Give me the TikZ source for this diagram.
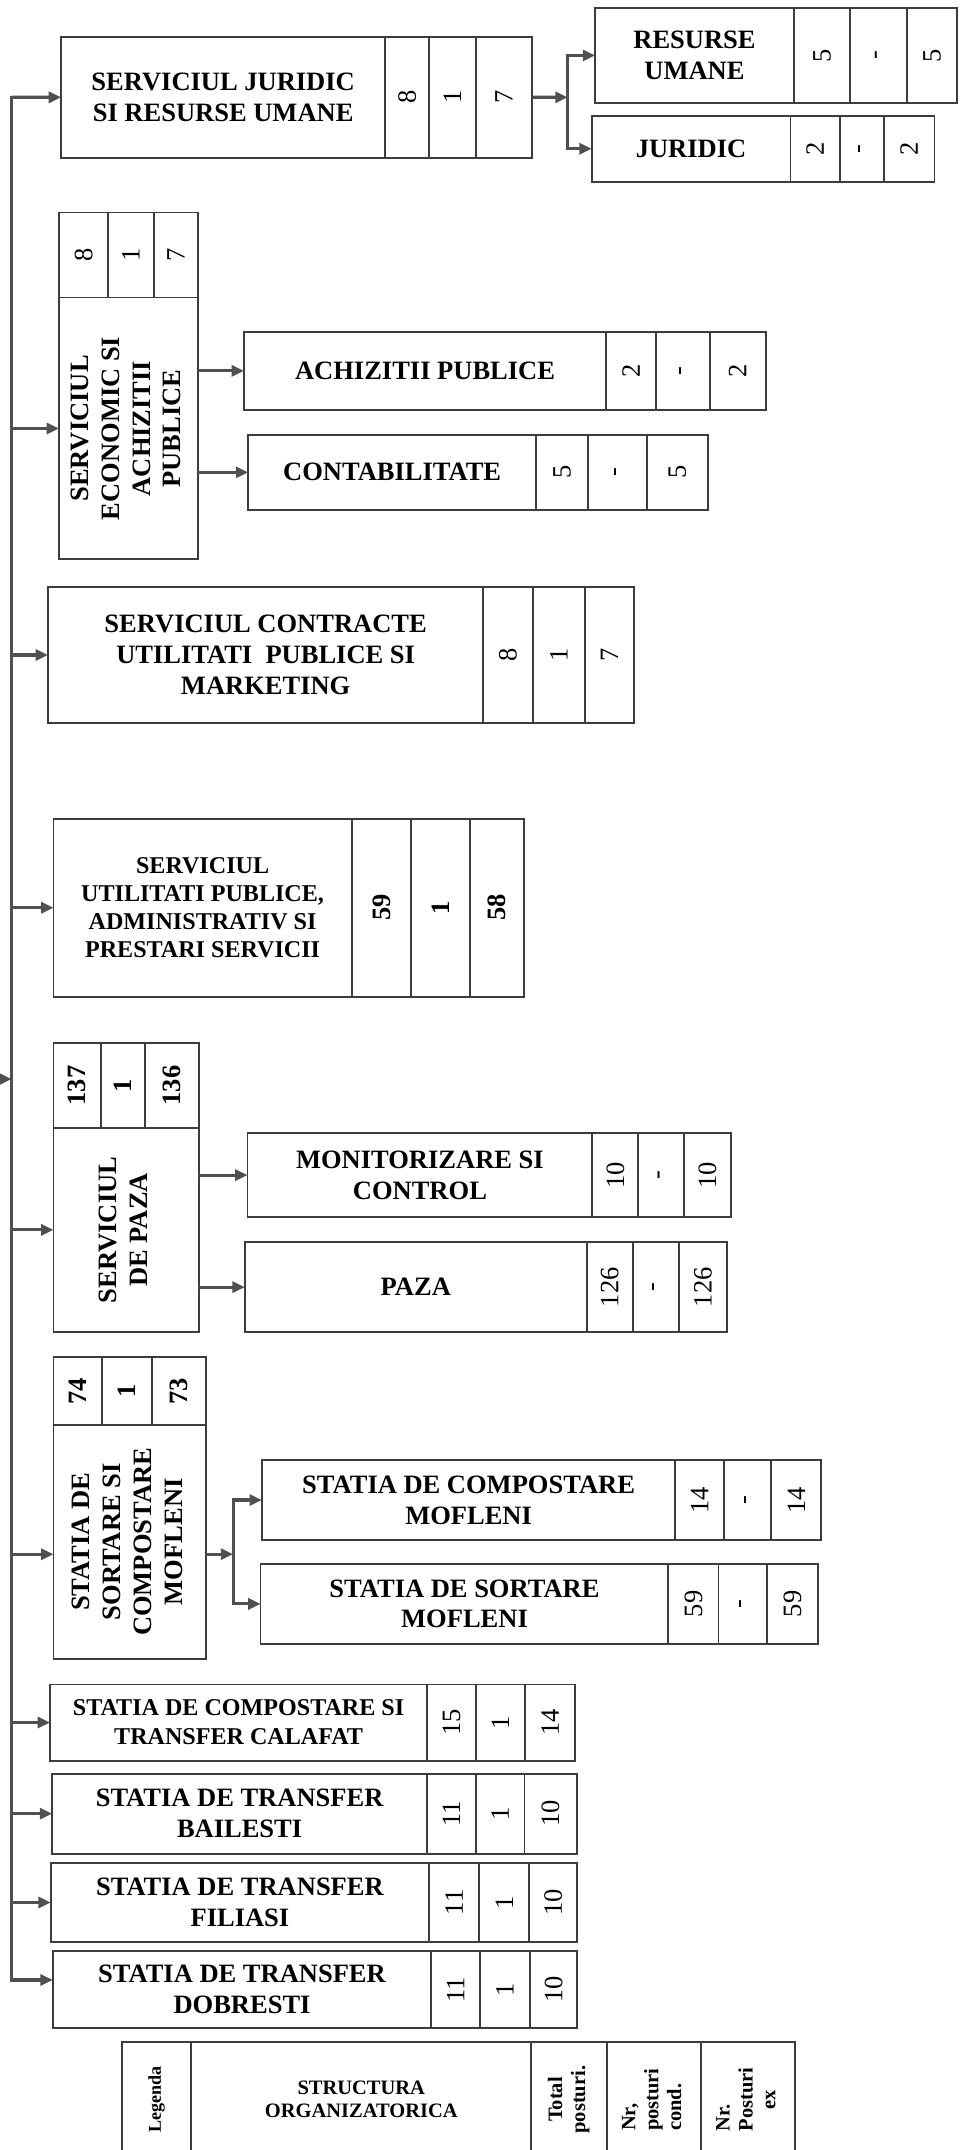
\documentclass[tikz,border=0pt]{standalone}
\usepackage{fontspec}
\setmainfont{Liberation Serif}
\usepackage{tikz}
\usetikzlibrary{arrows.meta, positioning}
\definecolor{boxgray}{HTML}{3C3C3C}
\definecolor{arrowgray}{HTML}{505050}

\begin{document}
\begin{tikzpicture}[
    unitbox/.style={draw=boxgray, line width=0.8pt, inner sep=1pt, outer sep=0pt,
                    align=center, font=\bfseries\fontsize{11}{12.8}\selectfont},
    numcell/.style={draw=boxgray, line width=0.8pt, inner sep=0pt, outer sep=0pt,
                    font=\fontsize{11}{13}\selectfont},
    legcell/.style={draw=boxgray, line width=0.8pt, inner sep=1pt, outer sep=0pt,
                    align=center, font=\bfseries\fontsize{8.5}{9.5}\selectfont},
    link/.style={draw=arrowgray, line width=1.3pt, line cap=rect},
    arr/.style={draw=arrowgray, line width=1.3pt, -{Triangle[length=1.8mm, width=1.6mm]}}]

  \useasboundingbox (0,0) rectangle (14.14, 31.36);

  % Serviciul juridic si resurse umane
  \node[unitbox, anchor=north west, minimum width=4.73cm, minimum height=1.76cm]
       (jur) at (0.89, 30.82) {SERVICIUL JURIDIC\\SI RESURSE UMANE};
  \node[numcell, minimum width=0.64cm, minimum height=1.76cm, right=0pt of jur]  (jur1) {\rotatebox{90}{8}};
  \node[numcell, minimum width=0.68cm, minimum height=1.76cm, right=0pt of jur1] (jur2) {\rotatebox{90}{1}};
  \node[numcell, minimum width=0.82cm, minimum height=1.76cm, right=0pt of jur2] (jur3) {\rotatebox{90}{7}};

  \node[unitbox, anchor=north west, minimum width=2.90cm, minimum height=1.38cm]
       (res) at (8.68, 31.24) {RESURSE\\UMANE};
  \node[numcell, minimum width=0.82cm, minimum height=1.38cm, right=0pt of res]  (res1) {\rotatebox{90}{5}};
  \node[numcell, minimum width=0.83cm, minimum height=1.38cm, right=0pt of res1] (res2) {\rotatebox{90}{-}};
  \node[numcell, minimum width=0.73cm, minimum height=1.38cm, right=0pt of res2] (res3) {\rotatebox{90}{5}};

  \node[unitbox, anchor=north west, minimum width=2.90cm, minimum height=0.96cm]
       (jd) at (8.63, 29.67) {JURIDIC};
  \node[numcell, minimum width=0.72cm, minimum height=0.96cm, right=0pt of jd]  (jd1) {\rotatebox{90}{2}};
  \node[numcell, minimum width=0.64cm, minimum height=0.96cm, right=0pt of jd1] (jd2) {\rotatebox{90}{-}};
  \node[numcell, minimum width=0.74cm, minimum height=0.96cm, right=0pt of jd2] (jd3) {\rotatebox{90}{2}};

  % Serviciul economic si achizitii publice
  \node[unitbox, anchor=north west, minimum width=2.03cm, minimum height=3.82cm]
       (econ) at (0.86, 27.02) {\rotatebox{90}{\begin{tabular}{@{}c@{}}SERVICIUL\\ECONOMIC SI\\ACHIZITII\\PUBLICE\end{tabular}}};
  \node[numcell, minimum width=0.72cm, minimum height=1.24cm, anchor=south west] (econ1) at (econ.north west) {\rotatebox{90}{8}};
  \node[numcell, minimum width=0.66cm, minimum height=1.24cm, right=0pt of econ1] (econ2) {\rotatebox{90}{1}};
  \node[numcell, minimum width=0.65cm, minimum height=1.24cm, right=0pt of econ2] (econ3) {\rotatebox{90}{7}};

  \node[unitbox, anchor=north west, minimum width=5.28cm, minimum height=1.14cm]
       (ach) at (3.56, 26.52) {ACHIZITII PUBLICE};
  \node[numcell, minimum width=0.73cm, minimum height=1.14cm, right=0pt of ach]  (ach1) {\rotatebox{90}{2}};
  \node[numcell, minimum width=0.78cm, minimum height=1.14cm, right=0pt of ach1] (ach2) {\rotatebox{90}{-}};
  \node[numcell, minimum width=0.82cm, minimum height=1.14cm, right=0pt of ach2] (ach3) {\rotatebox{90}{2}};

  \node[unitbox, anchor=north west, minimum width=4.20cm, minimum height=1.10cm]
       (cont) at (3.62, 25.02) {CONTABILITATE};
  \node[numcell, minimum width=0.76cm, minimum height=1.10cm, right=0pt of cont]  (cont1) {\rotatebox{90}{5}};
  \node[numcell, minimum width=0.86cm, minimum height=1.10cm, right=0pt of cont1] (cont2) {\rotatebox{90}{-}};
  \node[numcell, minimum width=0.88cm, minimum height=1.10cm, right=0pt of cont2] (cont3) {\rotatebox{90}{5}};

  % Serviciul contracte
  \node[unitbox, anchor=north west, minimum width=6.35cm, minimum height=1.99cm]
       (contr) at (0.70, 22.80) {SERVICIUL CONTRACTE\\UTILITATI\ \ PUBLICE SI\\MARKETING};
  \node[numcell, minimum width=0.72cm, minimum height=1.99cm, right=0pt of contr]  (contr1) {\rotatebox{90}{8}};
  \node[numcell, minimum width=0.76cm, minimum height=1.99cm, right=0pt of contr1] (contr2) {\rotatebox{90}{1}};
  \node[numcell, minimum width=0.72cm, minimum height=1.99cm, right=0pt of contr2] (contr3) {\rotatebox{90}{7}};

  % Serviciul utilitati publice
  \node[unitbox, anchor=north west, minimum width=4.35cm, minimum height=2.60cm,
        font=\bfseries\fontsize{10}{11.6}\selectfont]
       (util) at (0.78, 19.42) {SERVICIUL\\UTILITATI PUBLICE,\\ADMINISTRATIV SI\\PRESTARI SERVICII};
  \node[numcell, minimum width=0.87cm, minimum height=2.60cm, font=\bfseries\fontsize{11}{13}\selectfont,
        right=0pt of util]  (util1) {\rotatebox{90}{59}};
  \node[numcell, minimum width=0.85cm, minimum height=2.60cm, font=\bfseries\fontsize{11}{13}\selectfont,
        right=0pt of util1] (util2) {\rotatebox{90}{1}};
  \node[numcell, minimum width=0.79cm, minimum height=2.60cm, font=\bfseries\fontsize{11}{13}\selectfont,
        right=0pt of util2] (util3) {\rotatebox{90}{58}};

  % Serviciul de paza
  \node[unitbox, anchor=north west, minimum width=2.12cm, minimum height=2.98cm]
       (paza) at (0.78, 14.91) {\rotatebox{90}{\begin{tabular}{@{}c@{}}SERVICIUL\\DE PAZA\end{tabular}}};
  \node[numcell, minimum width=0.69cm, minimum height=1.23cm, font=\bfseries\fontsize{11}{13}\selectfont,
        anchor=south west] (paza1) at (paza.north west) {\rotatebox{90}{137}};
  \node[numcell, minimum width=0.65cm, minimum height=1.23cm, font=\bfseries\fontsize{11}{13}\selectfont,
        right=0pt of paza1] (paza2) {\rotatebox{90}{1}};
  \node[numcell, minimum width=0.78cm, minimum height=1.23cm, font=\bfseries\fontsize{11}{13}\selectfont,
        right=0pt of paza2] (paza3) {\rotatebox{90}{136}};

  \node[unitbox, anchor=north west, minimum width=5.03cm, minimum height=1.22cm]
       (mon) at (3.61, 14.83) {MONITORIZARE SI\\CONTROL};
  \node[numcell, minimum width=0.67cm, minimum height=1.22cm, right=0pt of mon]  (mon1) {\rotatebox{90}{10}};
  \node[numcell, minimum width=0.67cm, minimum height=1.22cm, right=0pt of mon1] (mon2) {\rotatebox{90}{-}};
  \node[numcell, minimum width=0.68cm, minimum height=1.22cm, right=0pt of mon2] (mon3) {\rotatebox{90}{10}};

  \node[unitbox, anchor=north west, minimum width=4.99cm, minimum height=1.31cm]
       (pz) at (3.57, 13.24) {PAZA};
  \node[numcell, minimum width=0.67cm, minimum height=1.31cm, right=0pt of pz]  (pz1) {\rotatebox{90}{126}};
  \node[numcell, minimum width=0.67cm, minimum height=1.31cm, right=0pt of pz1] (pz2) {\rotatebox{90}{-}};
  \node[numcell, minimum width=0.71cm, minimum height=1.31cm, right=0pt of pz2] (pz3) {\rotatebox{90}{126}};

  % Statia de sortare si compostare Mofleni
  \node[unitbox, anchor=north west, minimum width=2.23cm, minimum height=3.42cm]
       (sort) at (0.78, 10.58) {\rotatebox{90}{\begin{tabular}{@{}c@{}}STATIA DE\\SORTARE SI\\COMPOSTARE\\MOFLENI\end{tabular}}};
  \node[numcell, minimum width=0.71cm, minimum height=0.98cm, font=\bfseries\fontsize{11}{13}\selectfont,
        anchor=south west] (sort1) at (sort.north west) {\rotatebox{90}{74}};
  \node[numcell, minimum width=0.73cm, minimum height=0.98cm, font=\bfseries\fontsize{11}{13}\selectfont,
        right=0pt of sort1] (sort2) {\rotatebox{90}{1}};
  \node[numcell, minimum width=0.79cm, minimum height=0.98cm, font=\bfseries\fontsize{11}{13}\selectfont,
        right=0pt of sort2] (sort3) {\rotatebox{90}{73}};

  \node[unitbox, anchor=north west, minimum width=6.03cm, minimum height=1.16cm]
       (cmof) at (3.82, 10.06) {STATIA DE COMPOSTARE\\MOFLENI};
  \node[numcell, minimum width=0.71cm, minimum height=1.16cm, right=0pt of cmof]  (cmof1) {\rotatebox{90}{14}};
  \node[numcell, minimum width=0.69cm, minimum height=1.16cm, right=0pt of cmof1] (cmof2) {\rotatebox{90}{-}};
  \node[numcell, minimum width=0.73cm, minimum height=1.16cm, right=0pt of cmof2] (cmof3) {\rotatebox{90}{14}};

  \node[unitbox, anchor=north west, minimum width=5.95cm, minimum height=1.17cm]
       (smof) at (3.80, 8.55) {STATIA DE SORTARE\\MOFLENI};
  \node[numcell, minimum width=0.73cm, minimum height=1.17cm, right=0pt of smof]  (smof1) {\rotatebox{90}{59}};
  \node[numcell, minimum width=0.71cm, minimum height=1.17cm, right=0pt of smof1] (smof2) {\rotatebox{90}{-}};
  \node[numcell, minimum width=0.74cm, minimum height=1.17cm, right=0pt of smof2] (smof3) {\rotatebox{90}{59}};

  % Statii de transfer
  \node[unitbox, anchor=north west, minimum width=5.50cm, minimum height=1.11cm,
        font=\bfseries\fontsize{10}{12}\selectfont]
       (cal) at (0.73, 6.79) {STATIA DE COMPOSTARE SI\\TRANSFER CALAFAT};
  \node[numcell, minimum width=0.71cm, minimum height=1.11cm, right=0pt of cal]  (cal1) {\rotatebox{90}{15}};
  \node[numcell, minimum width=0.72cm, minimum height=1.11cm, right=0pt of cal1] (cal2) {\rotatebox{90}{1}};
  \node[numcell, minimum width=0.73cm, minimum height=1.11cm, right=0pt of cal2] (cal3) {\rotatebox{90}{14}};

  \node[unitbox, anchor=north west, minimum width=5.47cm, minimum height=1.17cm]
       (bail) at (0.76, 5.49) {STATIA DE TRANSFER\\BAILESTI};
  \node[numcell, minimum width=0.71cm, minimum height=1.17cm, right=0pt of bail]  (bail1) {\rotatebox{90}{11}};
  \node[numcell, minimum width=0.71cm, minimum height=1.17cm, right=0pt of bail1] (bail2) {\rotatebox{90}{1}};
  \node[numcell, minimum width=0.76cm, minimum height=1.17cm, right=0pt of bail2] (bail3) {\rotatebox{90}{10}};

  \node[unitbox, anchor=north west, minimum width=5.52cm, minimum height=1.14cm]
       (fil) at (0.74, 4.18) {STATIA DE TRANSFER\\FILIASI};
  \node[numcell, minimum width=0.73cm, minimum height=1.14cm, right=0pt of fil]  (fil1) {\rotatebox{90}{11}};
  \node[numcell, minimum width=0.73cm, minimum height=1.14cm, right=0pt of fil1] (fil2) {\rotatebox{90}{1}};
  \node[numcell, minimum width=0.70cm, minimum height=1.14cm, right=0pt of fil2] (fil3) {\rotatebox{90}{10}};

  \node[unitbox, anchor=north west, minimum width=5.52cm, minimum height=1.12cm]
       (dob) at (0.77, 2.90) {STATIA DE TRANSFER\\DOBRESTI};
  \node[numcell, minimum width=0.71cm, minimum height=1.12cm, right=0pt of dob]  (dob1) {\rotatebox{90}{11}};
  \node[numcell, minimum width=0.73cm, minimum height=1.12cm, right=0pt of dob1] (dob2) {\rotatebox{90}{1}};
  \node[numcell, minimum width=0.69cm, minimum height=1.12cm, right=0pt of dob2] (dob3) {\rotatebox{90}{10}};

  % Legenda
  \node[legcell, anchor=north west, minimum width=1.01cm, minimum height=1.67cm,
        font=\bfseries\fontsize{7.5}{8.5}\selectfont]
       (leg) at (1.78, 1.57) {\rotatebox{90}{Legenda}};
  \node[legcell, minimum width=4.96cm, minimum height=1.67cm, right=0pt of leg]  (leg1) {STRUCTURA\\ORGANIZATORICA};
  \node[legcell, minimum width=1.10cm, minimum height=1.67cm, right=0pt of leg1] (leg2)
       {\rotatebox{90}{\begin{tabular}{@{}c@{}}Total\\posturi.\end{tabular}}};
  \node[legcell, minimum width=1.37cm, minimum height=1.67cm, right=0pt of leg2] (leg3)
       {\rotatebox{90}{\begin{tabular}{@{}l@{}}Nr,\\posturi\\cond.\end{tabular}}};
  \node[legcell, minimum width=1.38cm, minimum height=1.67cm, right=0pt of leg3] (leg4)
       {\rotatebox{90}{\begin{tabular}{@{}l@{}}Nr.\\Posturi\\\multicolumn{1}{@{}c@{}}{ex}\end{tabular}}};

  % Trunk and connectors
  \coordinate (trunktop) at (0.17, 29.94);
  \coordinate (trunkbot) at (0.17, 2.48);
  \coordinate (inlet)    at (0, 15.62);
  \coordinate (jurj)     at (8.28, 29.94);
  \coordinate (sortj)    at (3.40, 8.69);

  \draw[link] (trunktop) -- (trunkbot);
  \draw[arr] (inlet) -- (inlet -| trunktop);
  \draw[arr] (trunktop) -- (jur.west);
  \draw[arr] (trunktop |- econ.west) -- (econ.west);
  \draw[arr] (trunktop |- contr.west) -- (contr.west);
  \draw[arr] (trunktop |- util.west) -- (util.west);
  \draw[arr] (trunktop |- paza.west) -- (paza.west);
  \draw[arr] (trunktop |- sortj) -- (sortj -| sort.west);
  \draw[arr] (trunktop |- cal.west) -- (cal.west);
  \draw[arr] (trunktop |- bail.west) -- (bail.west);
  \draw[arr] (trunktop |- fil.west) -- (fil.west);
  \draw[arr] (trunkbot) -- (trunkbot -| dob.west);

  \draw[arr] (jur3.east) -- (jurj);
  \draw[link] (jurj |- res.west) -- (jurj |- jd.west);
  \draw[arr] (jurj |- res.west) -- (res.west);
  \draw[arr] (jurj |- jd.west) -- (jd.west);

  \draw[arr] (econ.east |- ach.west) -- (ach.west);
  \draw[arr] (econ.east |- cont.west) -- (cont.west);

  \draw[arr] (paza.east |- mon.west) -- (mon.west);
  \draw[arr] (paza.east |- pz.west) -- (pz.west);

  \draw[arr] (sortj -| sort.east) -- (sortj);
  \draw[link] (sortj |- cmof.west) -- (sortj |- smof.west);
  \draw[arr] (sortj |- cmof.west) -- (cmof.west);
  \draw[arr] (sortj |- smof.west) -- (smof.west);
\end{tikzpicture}
\end{document}
